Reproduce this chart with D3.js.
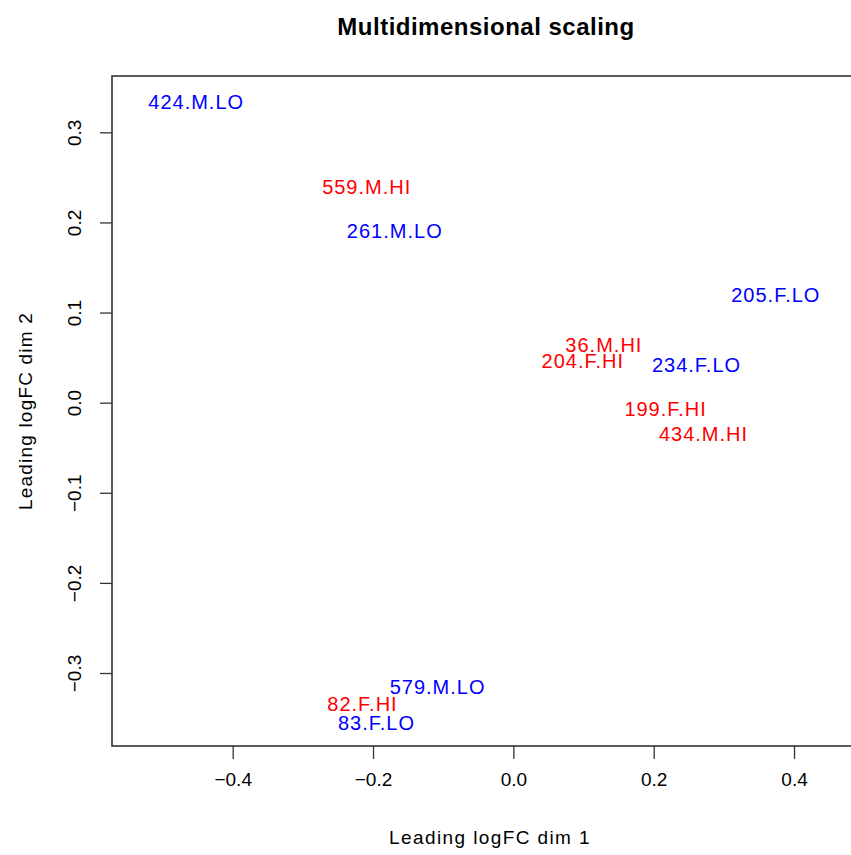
<!DOCTYPE html>
<html>
<head>
<meta charset="utf-8">
<script src="https://cdn.jsdelivr.net/npm/d3@7"></script>
<style>
  html, body { margin: 0; padding: 0; background: #fff; }
  svg text { font-family: "Liberation Sans", Arial, Helvetica, sans-serif; }
</style>
</head>
<body>
<script>
// Sample labels and their MDS coordinates (leading logFC dims 1 and 2)
const sampleLabels = ["424.M.LO", "559.M.HI", "261.M.LO", "205.F.LO", "36.M.HI", "204.F.HI",
                      "234.F.LO", "199.F.HI", "434.M.HI", "579.M.LO", "82.F.HI", "83.F.LO"];
const dim1 = [-0.452, -0.209, -0.169, 0.374, 0.129, 0.099, 0.261, 0.217, 0.271, -0.108, -0.215, -0.195];
const dim2 = [0.334, 0.240, 0.191, 0.120, 0.064, 0.047, 0.042, -0.007, -0.035, -0.315, -0.334, -0.355];
const groups = ["LO", "HI", "LO", "LO", "HI", "HI", "LO", "HI", "HI", "LO", "HI", "LO"];

const xTicks = [-0.4, -0.2, 0.0, 0.2, 0.4];
const yTicks = [-0.3, -0.2, -0.1, 0.0, 0.1, 0.2, 0.3];

const width = 851, height = 855;
const box = { left: 112, right: 860, top: 76, bottom: 746 };

const x = d3.scaleLinear().domain([-0.572, 0.494]).range([box.left, box.right]);
const y = d3.scaleLinear().domain([-0.381, 0.3625]).range([box.bottom, box.top]);
const color = d3.scaleOrdinal().domain(["HI", "LO"]).range(["#ff0000", "#0000ff"]);

const fmt = v => d3.format(".1f")(v).replace("-", "\u2212");

const svg = d3.select("body").append("svg")
  .attr("width", width).attr("height", height);

// Plot frame
svg.append("rect")
  .attr("x", box.left).attr("y", box.top)
  .attr("width", box.right - box.left).attr("height", box.bottom - box.top)
  .attr("fill", "none").attr("stroke", "#333").attr("stroke-width", 1.6);

// Bottom axis
const xAxis = svg.append("g")
  .attr("transform", `translate(0,${box.bottom})`)
  .call(d3.axisBottom(x).tickValues(xTicks).tickSize(13).tickPadding(14).tickFormat(fmt));
xAxis.select(".domain").remove();
xAxis.selectAll(".tick line").attr("stroke", "#333").attr("stroke-width", 1.3);
xAxis.selectAll(".tick text").attr("font-size", 19).attr("fill", "#000");

// Left axis, labels drawn parallel to the axis
const yAxis = svg.append("g")
  .attr("transform", `translate(${box.left},0)`)
  .call(d3.axisLeft(y).tickValues(yTicks).tickSize(12).tickFormat(fmt));
yAxis.select(".domain").remove();
yAxis.selectAll(".tick line").attr("stroke", "#333").attr("stroke-width", 1.3);
yAxis.selectAll(".tick text")
  .attr("font-size", 19).attr("fill", "#000")
  .attr("x", null).attr("dy", null)
  .attr("text-anchor", "middle")
  .attr("transform", "translate(-31,0) rotate(-90)");

// Title and axis titles
svg.append("text")
  .attr("x", (box.left + box.right) / 2).attr("y", 35)
  .attr("text-anchor", "middle").attr("font-size", 24).attr("font-weight", "bold")
  .attr("letter-spacing", 0.5)
  .text("Multidimensional scaling");

svg.append("text")
  .attr("x", 490).attr("y", 844)
  .attr("text-anchor", "middle").attr("font-size", 19)
  .attr("letter-spacing", 1.4)
  .text("Leading logFC dim 1");

svg.append("text")
  .attr("transform", `translate(32,${(box.top + box.bottom) / 2}) rotate(-90)`)
  .attr("text-anchor", "middle").attr("font-size", 19)
  .attr("letter-spacing", 1.2)
  .text("Leading logFC dim 2");

// Sample labels placed at their coordinates
svg.append("g").selectAll("text")
  .data(sampleLabels)
  .join("text")
  .attr("x", (d, i) => x(dim1[i]))
  .attr("y", (d, i) => y(dim2[i]))
  .attr("dy", "0.36em")
  .attr("text-anchor", "middle")
  .attr("font-size", 20)
  .attr("letter-spacing", 1)
  .attr("fill", (d, i) => color(groups[i]))
  .text(d => d);
</script>
</body>
</html>
